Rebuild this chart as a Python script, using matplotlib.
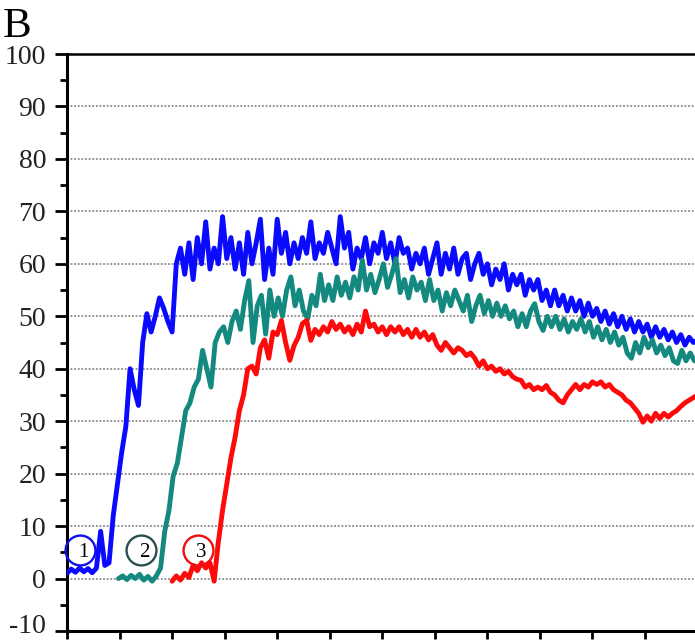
import numpy as np
import matplotlib
matplotlib.use("Agg")
import matplotlib.pyplot as plt
from matplotlib.ticker import MultipleLocator

# ---- data -------------------------------------------------------------
# Each trace is sampled every STEP x-units, starting at its own onset.
STEP = 0.08

blue_start = 0.0
blue_values = [
    1.0, 1.8, 1.2, 2.0, 1.3, 1.9, 1.1, 2.0, 9.0, 2.5,
    3.0, 12, 18, 24, 29, 40, 36, 33, 45, 50.5,
    47, 50, 53.5, 51.5, 49, 47, 60, 63, 58, 64,
    57, 65, 60, 68, 59, 63, 60, 69, 61, 65,
    59, 64, 58, 66, 60, 64, 68.5, 57, 63, 58,
    68.5, 62, 66, 60, 64, 61, 65, 62, 68, 61,
    64, 62, 66, 63, 60, 69, 63, 66, 59, 63,
    61, 65, 60, 64, 62, 66, 61, 64, 60, 65,
    62, 63, 59, 62, 60, 63, 58, 61, 64, 58,
    62, 59, 63, 58, 61, 62, 57, 60, 62, 58,
    60, 56, 59, 57, 60, 55, 58, 56, 58, 54,
    57, 55, 57, 53, 55, 52, 55, 52, 54, 51,
    53.5, 51, 53, 50, 52.5, 50, 51.5, 49, 51, 48.5,
    50.5, 48, 50, 47.5, 49.5, 47, 49, 47, 48.5, 46,
    48, 46, 47.5, 45.5, 47, 45, 46.5, 44.5, 46, 45,
    45.5,
]

teal_start = 0.98
teal_values = [
    0, 0.5, -0.2, 0.6, 0, 0.8, -0.3, 0.4, -0.5, 0.5,
    2.0, 9, 13, 19.5, 22, 27, 32, 33.5, 36.5, 38,
    43.5, 40, 36.5, 45, 47, 48, 45, 49, 51, 47.5,
    53, 56.8, 45, 52, 54, 46.6, 55, 50, 53.5, 50,
    55, 57.5, 52, 55, 51, 49.5, 54, 52, 58, 53,
    56, 53, 57.5, 54, 56.5, 53.5, 57.5, 55, 60.7, 55,
    58, 54.5, 57, 60, 55.5, 58, 61, 54.5, 57, 53.5,
    57.5, 55, 56.5, 53, 57, 53, 55, 51, 54.5, 52,
    55, 53, 51, 54, 49, 52, 54, 50.5, 53, 50,
    52.5, 50, 52, 49.5, 51, 48, 50.5, 48, 51, 52.4,
    49, 47.3, 50, 48, 50, 47.5, 49.5, 47, 49, 47.5,
    49.5, 47, 49, 46, 48, 45.5, 47.5, 45, 47, 44.5,
    46, 43, 42, 45, 43, 46, 44, 45.5, 43, 44.5,
    42.5, 44, 41.5, 41, 43.5, 41.5, 43, 41.5, 42,
]

red_start = 2.0
red_values = [
    -0.5, 0.5, -0.3, 1.0, 0.2, 2.5, 1.5, 3.0, 2.0, 3.0,
    -0.5, 7, 13, 18, 23, 27, 32, 35, 40, 40.5,
    39, 44, 45.5, 42, 47, 46.5, 49.2, 45, 41.6, 44.4,
    46, 48.6, 49.2, 45.4, 47.5, 46.5, 48, 47, 49, 47.5,
    48.5, 47, 48, 46.5, 48.5, 47, 51, 48, 48.5, 47,
    48, 46.5, 48, 47, 48, 46.5, 47.5, 46, 47.5, 46,
    47, 45.5, 46.5, 44.5, 43.5, 45, 44, 43, 44, 43.5,
    42.5, 43, 42, 40.5, 41.5, 40, 40.5, 39.5, 40, 39,
    39.5, 38.5, 38, 37.8, 36.5, 37, 36, 36.5, 36, 36.8,
    35.5, 35, 34, 33.5, 35, 36, 37, 36, 37, 36.5,
    37.5, 37, 37.5, 36.5, 37, 36, 35.5, 35, 34, 33.5,
    32.5, 31.5, 29.8, 31, 30, 31.5, 30.5, 31.5, 30.8, 31.5,
    32, 32.8, 33.5, 34, 34.5, 35,
]

series = [
    (blue_start, blue_values, "#0a0aff"),
    (teal_start, teal_values, "#13897f"),
    (red_start, red_values, "#ff0a0a"),
]

# circled run labels
marker_labels = ["1", "2", "3"]
marker_x = [0.25, 1.41, 2.49]
marker_y = [5.5, 5.5, 5.5]
marker_colors = ["#1010ee", "#2a4f4f", "#ee1010"]

y_ticks = list(range(-10, 101, 10))
grid_levels = list(range(0, 91, 10))

# ---- figure -----------------------------------------------------------
W, H, DPI = 695, 641, 100
fig = plt.figure(figsize=(W / DPI, H / DPI), dpi=DPI)
ax = fig.add_axes([67 / W, 1 - 631 / H, 630.6 / W, 577 / H])

serif = ["Liberation Serif", "DejaVu Serif"]
label_size = 20
tick_len, tick_pad = 9, 6

for lvl in grid_levels:
    ax.axhline(lvl, color="#8a8a8a", lw=1.3, ls=(0, (1, 1)), zorder=1)

for start, vals, col in series:
    xs = start + STEP * np.arange(len(vals))
    ax.plot(xs, vals, color=col, lw=3.5, solid_joinstyle="round",
            solid_capstyle="round", zorder=3)

for lab, mx, my, mc in zip(marker_labels, marker_x, marker_y, marker_colors):
    ax.plot([mx], [my], marker="o", ms=21.5, mfc="none", mec=mc, mew=1.7,
            zorder=4, clip_on=False)
    ax.annotate(lab, (mx, my), xytext=(2.5, -2), textcoords="offset points",
                ha="center", va="center", fontsize=15, family=serif,
                color="black", zorder=5)

ax.set_xlim(0, 12)
ax.set_ylim(-10, 100)
ax.set_xticks(range(0, 13))
ax.set_xticklabels([])
ax.set_yticks(y_ticks)
# the lowest label is placed by hand, nudged up so it stays on the canvas
tick_texts = ["" if v == y_ticks[0] else str(v) for v in y_ticks]
ax.set_yticklabels(tick_texts, family=serif, fontsize=label_size,
                   color="#222222")
ax.annotate(str(y_ticks[0]), (0, y_ticks[0]),
            xytext=(-(tick_len + tick_pad), 3), textcoords="offset points",
            ha="right", va="center", family=serif, fontsize=label_size,
            color="#222222", annotation_clip=False)
ax.yaxis.set_minor_locator(MultipleLocator(5))

ax.tick_params(axis="y", which="major", direction="out", length=tick_len,
               width=2, pad=tick_pad)
ax.tick_params(axis="y", which="minor", direction="out", length=5, width=2)
ax.tick_params(axis="x", which="major", direction="out", length=6, width=2)

for side in ("left", "bottom"):
    ax.spines[side].set_linewidth(2.2)
ax.spines["top"].set_linewidth(1.8)
ax.spines["right"].set_visible(False)

fig.text(3 / W, 1 - 37 / H, "B", family=serif, fontsize=31,
         ha="left", va="baseline")

fig.savefig("out.png", dpi=DPI)
